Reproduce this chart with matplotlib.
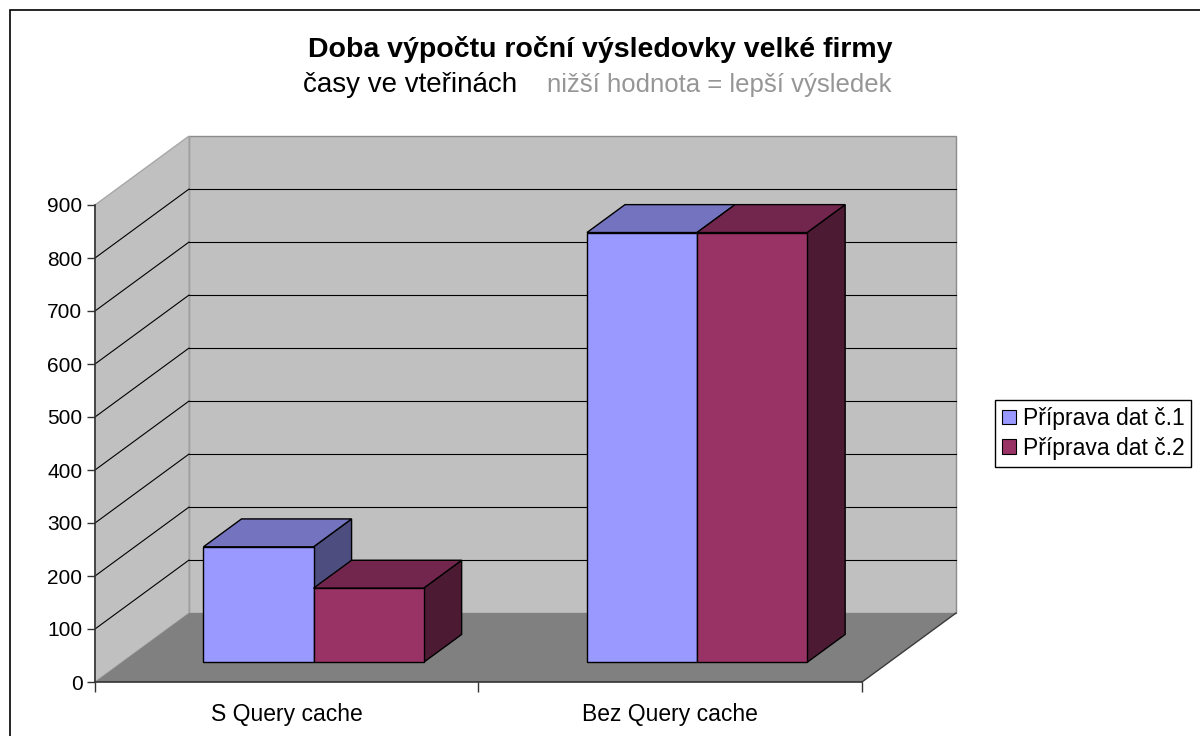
import numpy as np
import matplotlib.pyplot as plt
from matplotlib.patches import Polygon, Rectangle, Patch

plt.rcParams['font.family'] = ['Liberation Sans', 'DejaVu Sans']

# data
categories = ['S Query cache', 'Bez Query cache']
series_names = ['Příprava dat č.1', 'Příprava dat č.2']
series_values = [
    [218, 811],   # Příprava dat č.1
    [140, 811],   # Příprava dat č.2
]
yticks = [0, 100, 200, 300, 400, 500, 600, 700, 800, 900]

# styles (Excel 3D look)
front_col = ['#9999FF', '#993366']
top_col = ['#7373BF', '#73264D']
side_col = ['#4D4D80', '#4D1A33']
wall_col = '#C0C0C0'
floor_col = '#808080'

W, H = 1200, 736
fig = plt.figure(figsize=(W / 100, H / 100), dpi=100)
fig.patch.set_facecolor('white')

# outer chart border
fig.patches.append(Rectangle((10 / W, -0.1), 1.2, 1 - 10 / H + 0.1, transform=fig.transFigure,
                             fill=False, edgecolor='black', linewidth=1.2))

ax = fig.add_axes([95 / W, 54 / H, 767 / W, 477 / H])
ymax = yticks[-1]
ncat = len(categories)
ax.set_xlim(0, ncat)
ax.set_ylim(0, ymax)
ax.patch.set_visible(False)

# depth offset of the 3D box (in data units)
DX, DY = 0.245, 130

def poly(pts, fc, ec, lw=1.0, z=1):
    ax.add_patch(Polygon(pts, closed=True, facecolor=fc, edgecolor=ec, linewidth=lw,
                         zorder=z, clip_on=False))

# back wall, side wall, floor
poly([(DX, DY), (ncat + DX, DY), (ncat + DX, ymax + DY), (DX, ymax + DY)], wall_col, '#8C8C8C')
poly([(0, 0), (DX, DY), (DX, ymax + DY), (0, ymax)], wall_col, '#A8A8A8')
poly([(0, 0), (ncat, 0), (ncat + DX, DY), (DX, DY)], floor_col, 'none')
ax.plot([ncat, ncat + DX], [0, DY], color='#3A3A3A', lw=1, clip_on=False, zorder=1.5)

# gridlines on walls
for v in yticks[1:-1]:
    ax.plot([0, DX], [v, v + DY], color='black', lw=0.8, clip_on=False, zorder=1.2)
    ax.plot([DX, ncat + DX], [v + DY, v + DY], color='black', lw=0.8, clip_on=False, zorder=1.2)

# bars
bar_w = 0.287
f0, f1 = 0.285, 0.69
x_centers = np.arange(ncat) + 0.5
for j in range(ncat):
    for i, vals in enumerate(series_values):
        v = vals[j]
        xl = x_centers[j] - bar_w * len(series_values) / 2 + i * bar_w
        xr = xl + bar_w
        ox0, oy0 = f0 * DX, f0 * DY
        ox1, oy1 = f1 * DX, f1 * DY
        poly([(xr + ox0, oy0), (xr + ox1, oy1), (xr + ox1, v + oy1), (xr + ox0, v + oy0)],
             side_col[i], 'black', 1.0, 3)
        poly([(xl + ox0, v + oy0), (xr + ox0, v + oy0), (xr + ox1, v + oy1), (xl + ox1, v + oy1)],
             top_col[i], 'black', 1.0, 3)
        poly([(xl + ox0, oy0), (xr + ox0, oy0), (xr + ox0, v + oy0), (xl + ox0, v + oy0)],
             front_col[i], 'black', 1.0, 3)

# axes
for s in ['top', 'right']:
    ax.spines[s].set_visible(False)
for s in ['left', 'bottom']:
    ax.spines[s].set_color('#333333')
    ax.spines[s].set_linewidth(1.2)
ax.set_yticks(yticks)
ax.tick_params(axis='y', direction='out', length=6, width=1, color='#333333',
               labelsize=15, pad=3)
ax.set_xticks(np.arange(ncat + 1))
ax.set_xticklabels([])
ax.set_xticks(x_centers, minor=True)
ax.set_xticklabels(categories, minor=True)
ax.tick_params(axis='x', which='major', direction='out', length=7, width=1, color='#333333')
ax.tick_params(axis='x', which='minor', length=0, labelsize=16.5, pad=15)

# titles
fig.text(0.5, 1 - 57 / H, 'Doba výpočtu roční výsledovky velké firmy', ha='center',
         va='baseline', fontsize=20.5, fontweight='bold')
fig.text(303 / W, 1 - 92 / H, 'časy ve vteřinách', ha='left', va='baseline', fontsize=20)
fig.text(547 / W, 1 - 92 / H, 'nižší hodnota = lepší výsledek', ha='left', va='baseline',
         fontsize=18.5, color='#969696')

# legend
handles = [Patch(facecolor=front_col[i], edgecolor='black', linewidth=0.8)
           for i in range(len(series_names))]
leg = fig.legend(handles, series_names, loc='upper left', bbox_to_anchor=(995 / W, 1 - 400 / H),
                 frameon=True, fancybox=False, edgecolor='black', framealpha=1,
                 fontsize=16.5, handlelength=0.6, handleheight=0.6, handletextpad=0.3,
                 labelspacing=0.3, borderpad=0.3, borderaxespad=0)
leg.get_frame().set_linewidth(1)

fig.savefig('out.png', dpi=100)
